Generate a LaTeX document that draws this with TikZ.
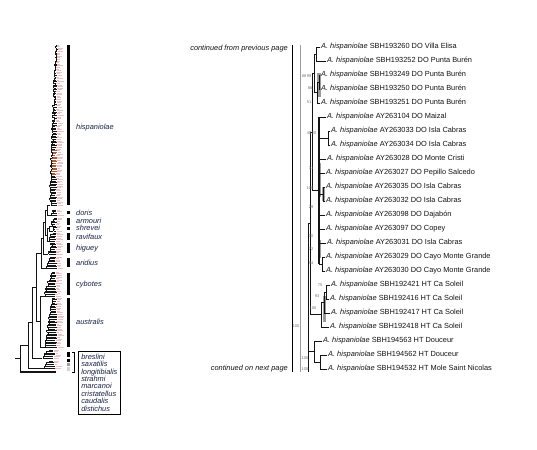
\documentclass[tikz,border=0pt]{standalone}
\usepackage{fontspec}
\setmainfont{Liberation Sans}
\usetikzlibrary{positioning}
\definecolor{TreeInk}{RGB}{20,20,20}
\definecolor{CladeInk}{RGB}{24,34,66}
\definecolor{GhostPink}{RGB}{236,194,198}
\definecolor{HighBrown}{RGB}{168,92,58}
\definecolor{SupGray}{RGB}{110,110,110}
\definecolor{BarGray}{RGB}{155,155,155}

% ladder of tips for one clade of the overview tree
\newcommand{\thumbclade}[8]{%
  \xdef\xprev{#3}\xdef\yprev{#1}%
  \foreach \k in {0,...,#6}{%
    \pgfmathsetmacro{\yk}{#1+(#2-#1)*\k/#6}%
    \pgfmathsetmacro{\xk}{#3+(#4-#3)*\k/#6+1.2*rand}%
    \pgfmathsetmacro{\xt}{#5+2.5*rnd}%
    \pgfmathsetmacro{\xg}{\xt+3+4*rnd}%
    \def\tipcol{TreeInk}%
    \ifdim\yk pt>#7pt\ifdim\yk pt<#8pt\def\tipcol{HighBrown}\fi\fi
    \draw[thumb] (\xprev,\yprev) -| (\xk,\yk);
    \draw[thumb,draw=\tipcol] (\xk,\yk) -- (\xt,\yk);
    \draw[ghost] (\xt+0.7,\yk) -- (\xg,\yk);
    \xdef\xprev{\xk}\xdef\yprev{\yk}%
  }%
}

\begin{document}
\begin{tikzpicture}[x=1pt,y=-1pt,
  thumb/.style={draw=TreeInk,line width=0.7pt},
  ghost/.style={draw=GhostPink,line width=0.6pt},
  branch/.style={draw=TreeInk,line width=0.7pt},
  tip/.style={anchor=west,inner sep=1pt,font=\fontsize{7.4}{8}\selectfont,text=TreeInk},
  clade/.style={anchor=west,inner sep=0pt,font=\fontsize{7.4}{8}\selectfont\itshape,text=CladeInk},
  note/.style={anchor=east,inner sep=0pt,font=\fontsize{7.4}{8}\selectfont\itshape,text=TreeInk},
  sup/.style={inner sep=0pt,font=\fontsize{4}{4.5}\selectfont,text=SupGray},
  cladebar/.style={fill=black},
  postbar/.style={fill=BarGray}]
  \fill[white] (0,0) rectangle (537,449);
  \useasboundingbox (0,0) rectangle (537,449);

  % overview tree
  \pgfmathsetseed{42}
  \thumbclade{45}{205}{56}{50}{55}{100}{150}{176}
  \thumbclade{210}{215}{53}{52}{55}{3}{0}{0}
  \thumbclade{218}{226}{54}{52}{55}{5}{0}{0}
  \thumbclade{227.5}{231}{54}{53}{55}{2}{0}{0}
  \thumbclade{233}{241}{53}{50}{55}{5}{0}{0}
  \thumbclade{243}{254}{52}{48}{55}{7}{0}{0}
  \thumbclade{257}{268}{50}{47}{54.5}{7}{0}{0}
  \thumbclade{272}{296}{52}{45}{54.5}{15}{0}{0}
  \thumbclade{298}{347}{53}{45}{55}{30}{0}{0}
  \thumbclade{350}{358}{50}{42}{53}{5}{0}{0}
  \thumbclade{361}{368}{50}{44}{53}{4}{0}{0}
  \draw[thumb] (50,205) -- (47,205) -- (47,215) -- (52,215);
  \draw[thumb] (52,226) -- (49,226) -- (49,231) -- (53,231);
  \draw[thumb] (49,228.5) -- (47.5,228.5) -- (47.5,241) -- (50,241);
  \draw[thumb] (47,210) -- (45,210) -- (45,235) -- (47.5,235);
  \draw[thumb] (45,222.5) -- (43,222.5) -- (43,254) -- (48,254);
  \draw[thumb] (43,238) -- (41,238) -- (41,268) -- (47,268);
  \draw[thumb] (45,296) -- (40,296) -- (40,347) -- (45,347);
  \draw[thumb] (41,253) -- (36,253) -- (36,321.5) -- (40,321.5);
  \draw[thumb] (36,287) -- (32,287) -- (32,358) -- (42,358);
  \draw[thumb] (32,322) -- (28,322) -- (28,368) -- (44,368);
  \draw[thumb] (28,345) -- (20,345) -- (20,372);
  \draw[thumb,line width=1.1pt] (20,372) -- (56,372);
  \draw[thumb] (20,358) -- (15,358);

  % clade bars and names
  \fill[cladebar] (66.5,45) rectangle (69.5,205);
  \fill[cladebar] (66.5,211) rectangle (69.5,214);
  \fill[cladebar] (66.5,218) rectangle (69.5,225);
  \fill[cladebar] (66.5,227) rectangle (69.5,230);
  \fill[cladebar] (66.5,233) rectangle (69.5,240);
  \fill[cladebar] (66.5,243) rectangle (69.5,253);
  \fill[cladebar] (66.5,258) rectangle (69.5,267);
  \fill[cladebar] (66.5,273) rectangle (69.5,295);
  \fill[cladebar] (66.5,298) rectangle (69.5,347);
  \fill[cladebar] (66.5,352) rectangle (69.5,357);
  \fill[cladebar] (66.5,359) rectangle (69.5,362);
  \fill[postbar] (66.5,363) rectangle (69.5,366);
  \fill[gray!35] (66.5,367) rectangle (69.5,371);
  \draw[line width=0.5pt] (72,352) -- (74,352) -- (74,372) -- (72,372);
  \node[clade] (hisp) at (76,128) {hispaniolae};
  \node[clade] (doris) at (76,213) {doris};
  \node[clade] (armouri) at (76,221) {armouri};
  \node[clade] (shrevei) at (76,228) {shrevei};
  \node[clade] (ravifaux) at (76,237) {ravifaux};
  \node[clade] (higuey) at (76,249) {higuey};
  \node[clade] (aridius) at (76,263) {aridius};
  \node[clade] (cybotes) at (76,285) {cybotes};
  \node[clade] (australis) at (76,322) {australis};
  \node[draw,line width=0.5pt,anchor=north west,align=left,inner xsep=3pt,inner ysep=2.5pt,
    font=\fontsize{7.4}{7.45}\selectfont\itshape,text=CladeInk] (outgroups) at (78,351)
    {breslini\\saxatilis\\longitibialis\\strahmi\\marcanoi\\cristatellus\\caudalis\\distichus};

  % page bars of the detail tree
  \draw[line width=0.6pt] (292,45) -- (292,372);
  \draw[BarGray,line width=1pt] (300,45) -- (300,372);
  \node[note] (fromprev) at (288,49) {continued from previous page};
  \node[note] (tonext) at (288,369) {continued on next page};

  % posterior bars
  \fill[postbar] (317,73) rectangle (321,97);
  \fill[postbar] (317.5,163) rectangle (320.5,197);
  \fill[gray!70] (321.5,187) rectangle (324.5,201);
  \fill[postbar] (317.5,240) rectangle (320.5,258);
  \fill[postbar] (323,296) rectangle (325.5,322);

  % tips
  \node[tip] (t1) at (320,47) {\textit{A. hispaniolae} SBH193260 DO Villa Elisa};
  \node[tip] (t2) at (326,61) {\textit{A. hispaniolae} SBH193252 DO Punta Burén};
  \node[tip] (t3) at (320,75) {\textit{A. hispaniolae} SBH193249 DO Punta Burén};
  \node[tip] (t4) at (320,89) {\textit{A. hispaniolae} SBH193250 DO Punta Burén};
  \node[tip] (t5) at (320,103) {\textit{A. hispaniolae} SBH193251 DO Punta Burén};
  \node[tip] (t6) at (326,117) {\textit{A. hispaniolae} AY263104 DO Maizal};
  \node[tip] (t7) at (330,131) {\textit{A. hispaniolae} AY263033 DO Isla Cabras};
  \node[tip] (t8) at (330,145) {\textit{A. hispaniolae} AY263034 DO Isla Cabras};
  \node[tip] (t9) at (326,159) {\textit{A. hispaniolae} AY263028 DO Monte Cristi};
  \node[tip] (t10) at (325,173) {\textit{A. hispaniolae} AY263027 DO Pepillo Salcedo};
  \node[tip] (t11) at (325,187) {\textit{A. hispaniolae} AY263035 DO Isla Cabras};
  \node[tip] (t12) at (325,201) {\textit{A. hispaniolae} AY263032 DO Isla Cabras};
  \node[tip] (t13) at (325,215) {\textit{A. hispaniolae} AY263098 DO Dajabón};
  \node[tip] (t14) at (325,229) {\textit{A. hispaniolae} AY263097 DO Copey};
  \node[tip] (t15) at (326,243) {\textit{A. hispaniolae} AY263031 DO Isla Cabras};
  \node[tip] (t16) at (325,257) {\textit{A. hispaniolae} AY263029 DO Cayo Monte Grande};
  \node[tip] (t17) at (325,271) {\textit{A. hispaniolae} AY263030 DO Cayo Monte Grande};
  \node[tip] (t18) at (330,285) {\textit{A. hispaniolae} SBH192421 HT Ca Soleil};
  \node[tip] (t19) at (329,299) {\textit{A. hispaniolae} SBH192416 HT Ca Soleil};
  \node[tip] (t20) at (330,313) {\textit{A. hispaniolae} SBH192417 HT Ca Soleil};
  \node[tip] (t21) at (329,327) {\textit{A. hispaniolae} SBH192418 HT Ca Soleil};
  \node[tip] (t22) at (322,341) {\textit{A. hispaniolae} SBH194563 HT Douceur};
  \node[tip] (t23) at (327,355) {\textit{A. hispaniolae} SBH194562 HT Douceur};
  \node[tip] (t24) at (327,369) {\textit{A. hispaniolae} SBH194532 HT Mole Saint Nicolas};

  % inner nodes
  \coordinate (A) at (316,54);
  \coordinate (B) at (319,82);
  \coordinate (C) at (317,92.5);
  \coordinate (D) at (314,73.25);
  \coordinate (M) at (328,138);
  \coordinate (N) at (323,194);
  \coordinate (O) at (322,264);
  \coordinate (Sp) at (319,190.5);
  \coordinate (E) at (312,131.9);
  \coordinate (F) at (326,292);
  \coordinate (G) at (324,302.5);
  \coordinate (H) at (321,314.75);
  \coordinate (J) at (310,223.3);
  \coordinate (L) at (320,362);
  \coordinate (K) at (314,351.5);
  \coordinate (R) at (308,287.4);
  \coordinate (stem) at (308,372);

  % branches
  \draw[branch] (A) |- (t1.west);
  \draw[branch] (A) |- (t2.west);
  \draw[branch] (B) |- (t3.west);
  \draw[branch] (B) |- (t4.west);
  \draw[branch] (C) |- (B);
  \draw[branch] (C) |- (t5.west);
  \draw[branch] (D) |- (A);
  \draw[branch] (D) |- (C);
  \draw[branch] (M) |- (t7.west);
  \draw[branch] (M) |- (t8.west);
  \draw[branch] (N) |- (t11.west);
  \draw[branch] (N) |- (t12.west);
  \draw[branch] (O) |- (t16.west);
  \draw[branch] (O) |- (t17.west);
  \draw[branch,line width=1.4pt] (Sp |- t6) -- (Sp |- O);
  \draw[branch] (Sp) |- (t6.west);
  \draw[branch] (Sp) |- (M);
  \draw[branch] (Sp) |- (t9.west);
  \draw[branch] (Sp) |- (t10.west);
  \draw[branch] (Sp) |- (N);
  \draw[branch] (Sp) |- (t13.west);
  \draw[branch] (Sp) |- (t14.west);
  \draw[branch] (Sp) |- (t15.west);
  \draw[branch] (Sp) |- (O);
  \draw[branch] (E) |- (D);
  \draw[branch] (E) |- (Sp);
  \draw[branch] (F) |- (t18.west);
  \draw[branch] (F) |- (t19.west);
  \draw[branch] (G) |- (F);
  \draw[branch] (G) |- (t20.west);
  \draw[branch] (H) |- (G);
  \draw[branch] (H) |- (t21.west);
  \draw[branch] (J) |- (E);
  \draw[branch] (J) |- (H);
  \draw[branch] (L) |- (t23.west);
  \draw[branch] (L) |- (t24.west);
  \draw[branch] (K) |- (t22.west);
  \draw[branch] (K) |- (L);
  \draw[branch] (R) |- (J);
  \draw[branch] (R) |- (K);
  \draw[branch] (R) -- (stem);

  % support values
  \node[sup] (s1) at (304,76) {88};
  \node[sup] (s2) at (309,76) {99};
  \node[sup] (s3) at (310,88) {86};
  \node[sup] (s4) at (309,102) {51};
  \node[sup] (s5) at (309,133) {40};
  \node[sup] (s6) at (313,133) {100};
  \node[sup] (s7) at (311,168) {31};
  \node[sup] (s8) at (310,188) {100};
  \node[sup] (s9) at (311,207) {29};
  \node[sup] (s10) at (311,236) {30};
  \node[sup] (s11) at (311,249) {72};
  \node[sup] (s12) at (311,263) {94};
  \node[sup] (s13) at (320,285) {75};
  \node[sup] (s14) at (317,296) {93};
  \node[sup] (s15) at (313,308) {100};
  \node[sup] (s16) at (296,326) {100};
  \node[sup] (s17) at (305,358) {100};
  \node[sup] (s18) at (305,369) {100};
\end{tikzpicture}
\end{document}
